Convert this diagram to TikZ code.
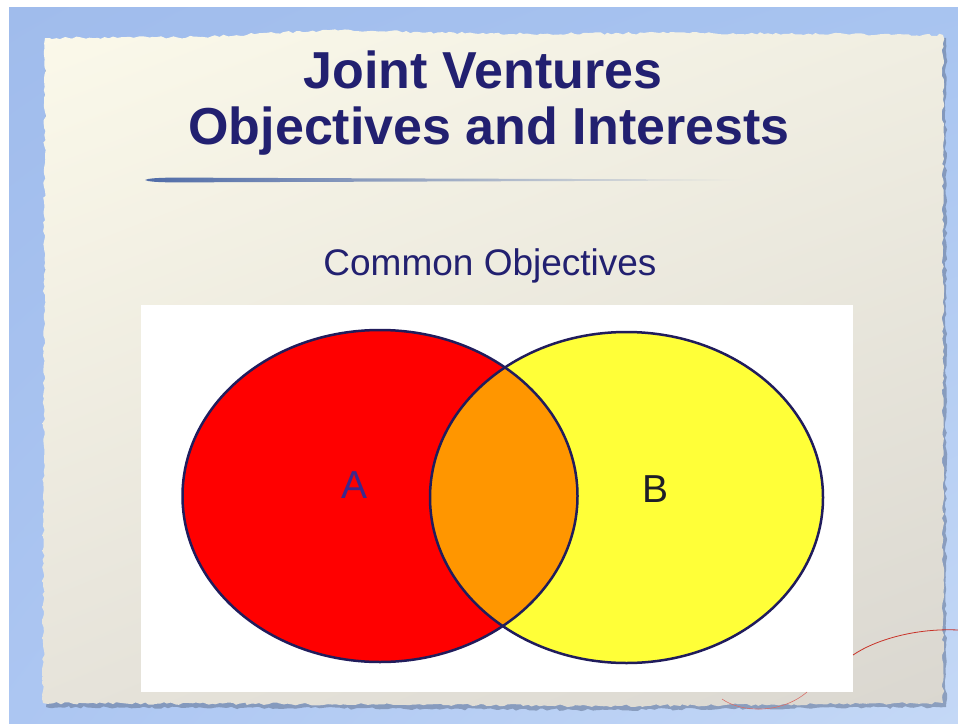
\documentclass[tikz,border=0pt]{standalone}
\usepackage{fontspec}
\setmainfont{Liberation Sans}
\usetikzlibrary{decorations.pathmorphing,shadings}
\definecolor{navy}{RGB}{34,32,112}
\definecolor{outline}{RGB}{32,28,92}
\definecolor{vred}{RGB}{255,0,0}
\definecolor{vyellow}{RGB}{255,255,56}
\definecolor{vorange}{RGB}{255,150,0}
\definecolor{labA}{RGB}{60,40,140}
\definecolor{labB}{RGB}{30,30,40}
\definecolor{bgblue1}{RGB}{160,188,236}
\definecolor{bgblue2}{RGB}{168,196,240}
\definecolor{bgblue3}{RGB}{172,198,242}
\definecolor{bgblue4}{RGB}{196,216,246}
\definecolor{paper1}{RGB}{251,249,234}
\definecolor{paper2}{RGB}{240,238,226}
\definecolor{paper3}{RGB}{230,227,218}
\definecolor{paper4}{RGB}{218,215,208}
\definecolor{lineblue}{RGB}{80,108,168}
\definecolor{thread}{RGB}{200,50,40}
\tikzset{
  titletext/.style={font=\bfseries\fontsize{52}{56}\selectfont, text=navy, inner sep=0pt},
  subtext/.style={font=\fontsize{37}{40}\selectfont, text=navy, inner sep=0pt},
  setlabel/.style={font=\fontsize{39}{42}\selectfont, inner sep=0pt},
  rim/.style={draw=outline, line width=2.5pt},
  rough/.style={decorate, decoration={random steps, segment length=4pt, amplitude=1.3pt}}
}
\begin{document}
\begin{tikzpicture}[x=1pt,y=-1pt]
\useasboundingbox (0,0) rectangle (958,723);
% background
\fill[white] (0,0) rectangle (958,723);
\shade[upper left=bgblue1, upper right=bgblue2, lower left=bgblue3, lower right=bgblue4] (9,7) rectangle (958,723);
% paper shadow
\pgfmathsetseed{11}
\fill[black!35!bgblue1, opacity=0.6, rough] (46,41) -- (200,40) -- (330,33) -- (500,37) -- (700,36) -- (946,38) -- (946,707) -- (600,710) -- (300,708) -- (46,707) -- cycle;
% paper
\pgfmathsetseed{5}
\shade[upper left=paper1, upper right=paper2, lower left=paper3, lower right=paper4, rough] (45,38) -- (200,37) -- (330,30) -- (500,34) -- (700,33) -- (943,35) -- (943,703) -- (600,706) -- (300,704) -- (43,703) -- cycle;
% title
\node[titletext, anchor=base] (t1) at (483,88) {Joint Ventures};
\node[titletext, anchor=base] (t2) at (489,144) {Objectives and Interests};
% underline
\shade[left color=lineblue, right color=paper2] (145,180) .. controls (150,177) and (180,177.5) .. (220,177.8) -- (750,179.6) -- (750,180.4) -- (220,182.2) .. controls (180,182.5) and (150,183) .. cycle;
\node[subtext, anchor=base] (sub) at (490,275) {Common Objectives};
% white panel
\fill[white] (141,305) rectangle (853,692);
% Venn
\fill[vred] (380,496) ellipse [x radius=197.5, y radius=166];
\fill[vyellow] (626.5,497.5) ellipse [x radius=196.5, y radius=165.5];
\begin{scope}
  \clip (380,496) ellipse [x radius=197.5, y radius=166];
  \fill[vorange] (626.5,497.5) ellipse [x radius=196.5, y radius=165.5];
\end{scope}
\draw[rim] (380,496) ellipse [x radius=197.5, y radius=166];
\draw[rim] (626.5,497.5) ellipse [x radius=196.5, y radius=165.5];
\node[setlabel, text=labA, anchor=base] (a) at (355,498) {A};
\node[setlabel, text=labB, anchor=base] (b) at (655,502) {B};
% threads
\draw[thread, line width=0.8pt] (853,655) .. controls (875,640) and (915,628) .. (958,630);
\draw[thread!70!white, line width=0.6pt] (722,699) .. controls (740,712) and (780,715) .. (807,692);
\end{tikzpicture}
\end{document}
